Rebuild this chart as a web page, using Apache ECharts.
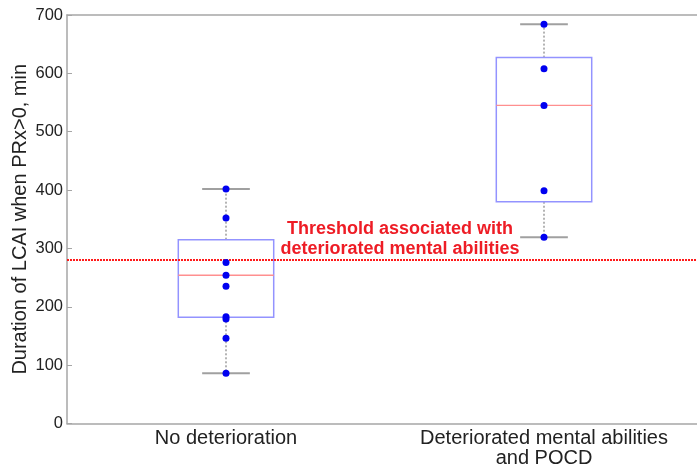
<!DOCTYPE html>
<html>
<head>
<meta charset="utf-8">
<script src="https://cdn.jsdelivr.net/npm/echarts@6/dist/echarts.min.js"></script>
<style>html,body{margin:0;padding:0;background:#fff;}#c{width:697px;height:467px;}</style>
</head>
<body>
<div id="c"></div>
<script>
const categories = ['No deterioration', 'Deteriorated mental abilities\nand POCD'];
const whiskerLow = [86, 319];
const q1 = [182, 380];
const median = [254, 545];
const q3 = [315, 627];
const whiskerHigh = [402, 684];
const pointsNoDet = [402, 352, 276, 254, 235, 183, 179, 146, 86];
const pointsDet = [684, 608, 545, 399, 319];
const threshold = 280;
const yTicks = [0, 100, 200, 300, 400, 500, 600, 700];

const boxData = categories.map((c, i) => [i, whiskerLow[i], q1[i], median[i], q3[i], whiskerHigh[i]]);
const scatterData = [];
pointsNoDet.forEach(v => scatterData.push([0, v]));
pointsDet.forEach(v => scatterData.push([1, v]));

const chart = echarts.init(document.getElementById('c'), null, {renderer: 'canvas'});
const axisGray = '#a6a6a6';
chart.setOption({
  animation: false,
  backgroundColor: '#fff',
  grid: {left: 67, top: 15, bottom: 43.5, right: -6, containLabel: false, outerBoundsMode: 'none'},
  xAxis: [{
    type: 'category',
    data: categories,
    boundaryGap: true,
    axisLine: {lineStyle: {color: axisGray, width: 1.5}},
    axisTick: {inside: true, alignWithLabel: true, length: 5, lineStyle: {color: axisGray}},
    axisLabel: {color: '#222', fontSize: 20, lineHeight: 20, margin: 5, fontFamily: 'Liberation Sans',
      interval: 0, hideOverlap: false, showMaxLabel: true, showMinLabel: true},
    splitLine: {show: false}
  }, {
    type: 'category',
    data: categories,
    position: 'top',
    axisLine: {lineStyle: {color: axisGray, width: 1.5}},
    axisTick: {show: false},
    axisLabel: {show: false}
  }],
  yAxis: {
    type: 'value',
    min: 0, max: 700, interval: 100,
    name: 'Duration of LCAI when PRx>0, min',
    nameLocation: 'middle',
    nameGap: 37,
    nameMoveOverlap: false,
    nameTextStyle: {color: '#222', fontSize: 20, fontFamily: 'Liberation Sans'},
    axisLine: {show: true, lineStyle: {color: axisGray, width: 1.5}},
    axisTick: {show: true, inside: true, length: 5, lineStyle: {color: axisGray}},
    axisLabel: {color: '#222', fontSize: 16.5, margin: 4, fontFamily: 'Liberation Sans',
      formatter: v => yTicks.includes(v) ? String(v) : ''},
    splitLine: {show: false}
  },
  series: [{
    type: 'custom',
    data: boxData,
    z: 2,
    renderItem: function (params, api) {
      const i = api.value(0);
      const band = api.size([1, 0])[0];
      const cx = api.coord([i, 0])[0];
      const yLow = api.coord([i, api.value(1)])[1];
      const yQ1 = api.coord([i, api.value(2)])[1];
      const yMed = api.coord([i, api.value(3)])[1];
      const yQ3 = api.coord([i, api.value(4)])[1];
      const yHigh = api.coord([i, api.value(5)])[1];
      const bw = band * 0.30, cw = band * 0.15;
      const whisk = {stroke: '#8c8c8c', lineWidth: 1.3, lineDash: [2, 2]};
      const cap = {stroke: '#a0a0a0', lineWidth: 2};
      return {type: 'group', children: [
        {type: 'line', shape: {x1: cx, y1: yQ3, x2: cx, y2: yHigh}, style: whisk},
        {type: 'line', shape: {x1: cx, y1: yQ1, x2: cx, y2: yLow}, style: whisk},
        {type: 'line', shape: {x1: cx - cw / 2, y1: yHigh, x2: cx + cw / 2, y2: yHigh}, style: cap},
        {type: 'line', shape: {x1: cx - cw / 2, y1: yLow, x2: cx + cw / 2, y2: yLow}, style: cap},
        {type: 'rect', shape: {x: cx - bw / 2, y: yQ3, width: bw, height: yQ1 - yQ3},
          style: {fill: 'none', stroke: '#9393ff', lineWidth: 1.5}},
        {type: 'line', shape: {x1: cx - bw / 2, y1: yMed, x2: cx + bw / 2, y2: yMed},
          style: {stroke: '#ff8f8f', lineWidth: 1.3}}
      ]};
    }
  }, {
    type: 'scatter',
    data: scatterData,
    symbolSize: 7,
    z: 5,
    itemStyle: {color: '#0000f0', opacity: 1},
    markLine: {
      silent: true,
      symbol: 'none',
      z: 4,
      lineStyle: {color: '#ff1a1a', type: [2, 1], width: 2, opacity: 1},
      label: {
        show: true,
        position: 'insideMiddleTop',
        formatter: 'Threshold associated with\ndeteriorated mental abilities',
        color: '#ee1c25',
        fontWeight: 'bold',
        fontSize: 18,
        lineHeight: 20,
        fontFamily: 'Liberation Sans',
        distance: 1,
        offset: [15, 0]
      },
      data: [{yAxis: threshold}]
    }
  }]
});
</script>
</body>
</html>
